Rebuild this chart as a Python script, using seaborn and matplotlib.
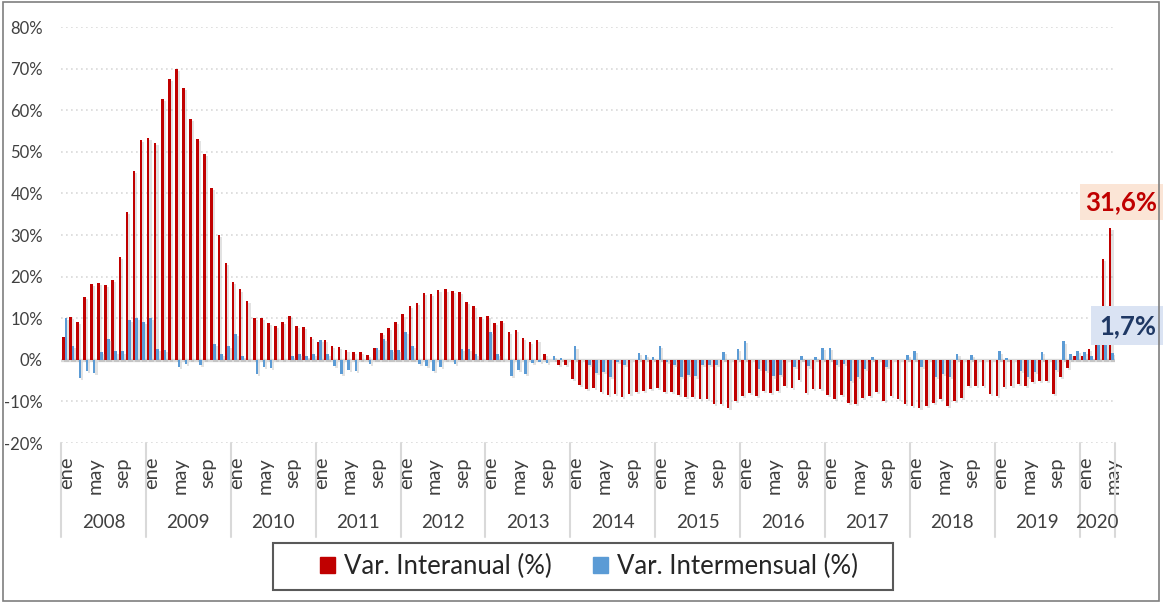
import matplotlib
matplotlib.use("Agg")
import matplotlib.pyplot as plt
import matplotlib.patheffects as pe
from matplotlib.patches import Patch, Rectangle
from matplotlib.transforms import ScaledTranslation
import pandas as pd
import seaborn as sns

# monthly values, ene-2008 .. may-2020
years = [str(y) for y in range(2008, 2021)]
month_ticks = ["ene", "may", "sep"]

interanual = [
    5.6, 10.3, 9.0, 15.0, 18.2, 18.5, 17.9, 19.3, 24.7, 35.5, 45.5, 52.8,
    53.3, 52.2, 62.8, 67.6, 70.0, 65.4, 57.9, 53.0, 49.5, 41.4, 30.0, 23.3,
    18.8, 16.9, 14.2, 10.1, 10.1, 8.8, 8.2, 9.0, 10.6, 8.2, 8.0, 5.6,
    4.2, 4.7, 3.4, 3.1, 2.3, 1.8, 1.8, 1.2, 2.8, 6.4, 7.7, 9.0,
    10.9, 13.0, 13.6, 16.0, 15.8, 16.8, 16.9, 16.6, 16.3, 13.8, 13.0, 10.4,
    10.6, 8.8, 9.3, 6.8, 7.1, 5.3, 4.2, 4.7, 1.3, 0.0, -1.2, -1.2,
    -4.6, -6.0, -7.1, -6.8, -7.8, -8.5, -8.2, -9.0, -8.2, -7.7, -7.4, -7.1,
    -6.8, -7.7, -7.7, -8.5, -9.0, -9.0, -9.5, -9.5, -10.6, -10.6, -11.6, -9.8,
    -8.7, -7.9, -8.7, -7.4, -7.9, -7.6, -6.3, -6.8, -4.8, -7.9, -7.1, -7.1,
    -8.5, -9.5, -8.5, -10.3, -10.6, -9.2, -8.7, -7.7, -10.0, -8.7, -9.5, -10.6,
    -11.2, -11.6, -11.0, -10.3, -9.4, -11.0, -9.9, -9.2, -6.2, -6.2, -6.2, -8.2,
    -8.6, -6.6, -6.2, -5.8, -6.2, -5.4, -5.0, -5.0, -8.2, -4.2, -2.0, 1.0,
    0.8, 2.5, 9.0, 24.2, 31.6,
]

intermensual = [
    10.1, 3.4, -4.4, -2.7, -3.1, 1.8, 5.0, 2.0, 2.0, 9.6, 10.1, 9.0,
    10.1, 2.5, 2.3, 0.0, -1.8, -1.0, 0.0, -1.2, 0.0, 3.7, 1.3, 3.4,
    6.3, 1.0, 0.0, -3.3, -1.7, -1.9, 0.0, 0.0, 1.0, 1.5, 1.0, 1.3,
    4.7, 1.5, -1.4, -3.5, -2.5, -2.7, 0.0, -0.9, 2.8, 5.0, 2.3, 2.3,
    6.6, 3.4, -0.9, -1.4, -2.7, -1.7, 0.0, -1.0, 2.6, 2.6, 1.5, 0.0,
    6.8, 1.5, 0.0, -3.9, -2.5, -3.5, -0.7, -0.5, -0.7, 1.0, 0.4, 0.0,
    3.2, 0.0, -1.2, -3.2, -3.0, -4.2, -0.6, -1.2, 0.0, 1.6, 1.1, 0.6,
    3.4, -0.6, -1.2, -4.2, -3.6, -4.0, -1.2, -1.2, -1.2, 1.9, 0.0, 2.7,
    4.6, 0.0, -2.1, -2.7, -4.0, -3.6, 0.0, -1.7, 0.8, -1.6, 0.6, 2.9,
    2.9, -1.2, -1.0, -5.0, -4.2, -2.2, 0.6, 0.0, -1.7, 0.0, 0.0, 1.2,
    2.2, -1.8, 0.0, -4.2, -3.5, -4.2, 1.4, 0.0, 1.2, 0.0, 0.0, 0.0,
    2.0, 0.5, 0.0, -2.6, -4.2, -3.0, 1.8, 0.0, -2.4, 4.4, 1.4, 2.2,
    1.8, 0.8, 4.5, 6.5, 1.7,
]

RED = "#C00000"
BLUE = "#5B9BD5"
TXT = "#404040"
GRID = "#D9D9D9"

n = len(interanual)
df = pd.DataFrame({
    "mes": list(range(n)) * 2,
    "valor": interanual + intermensual,
    "serie": ["Var. Interanual (%)"] * n + ["Var. Intermensual (%)"] * n,
})

sns.set_style("white")
plt.rcParams["font.family"] = ["Lato", "DejaVu Sans"]

fig = plt.figure(figsize=(11.63, 6.02), dpi=100)
ax = fig.add_axes([61 / 1163, 1 - 443 / 602, 1054 / 1163, 416 / 602])

sns.barplot(data=df, x="mes", y="valor", hue="serie", order=list(range(n)),
            palette=[RED, BLUE], width=0.74, dodge=True, legend=False,
            saturation=1, linewidth=0, ax=ax, zorder=3)
for bar in ax.patches:
    bar.set_path_effects([pe.SimplePatchShadow(offset=(1.5, -1.5), shadow_rgbFace="#8c8c8c", alpha=0.25),
                          pe.Normal()])

ax.set_xlim(-0.5, n - 0.5)
ax.set_ylim(-20, 80)
yt = list(range(-20, 81, 10))
ax.set_yticks(yt)
ax.set_yticklabels([f"{v}%" for v in yt], fontsize=12, color=TXT)
for v in yt:
    if v != 0:
        ax.axhline(v, color=GRID, lw=1.2, ls=(0, (1, 2)), zorder=0)
ax.axhline(0, color=GRID, lw=2.4, zorder=1)
for s in ax.spines.values():
    s.set_visible(False)

# category axis: months + years
pos, labs = [], []
for k in range(len(years)):
    for j, m in zip([0, 4, 8], month_ticks):
        if 12 * k + j < n:
            pos.append(12 * k + j)
            labs.append(m)
ax.set_xticks(pos)
ax.set_xticklabels(labs, rotation=90, fontsize=14.5, color=TXT, va="top", ha="center")
ax.tick_params(axis="x", length=0, pad=10)
ax.tick_params(axis="y", length=0, pad=13)
ax.set_xlabel("")
ax.set_ylabel("")
shift = ScaledTranslation(1.5 / 72, 0, fig.dpi_scale_trans)
for lab in ax.get_xticklabels():
    lab.set_transform(lab.get_transform() + shift)

tr = ax.get_xaxis_transform()
bounds = list(range(0, n, 12)) + [n]
for b in bounds:
    ax.plot([b - 0.5, b - 0.5], [0, -0.226], transform=tr, color=GRID, lw=1.5, clip_on=False)
for k, y in enumerate(years):
    a, b = bounds[k], bounds[k + 1]
    ax.text((a + b - 1) / 2, -0.19, y, transform=tr, ha="center", va="center",
            fontsize=13.5, color=TXT)

def fmt(v):
    return f"{v:.1f}".replace(".", ",") + "%"

ax.annotate(fmt(interanual[-1]), xy=(n - 1, interanual[-1]), xytext=(7, 19),
            textcoords="offset points", ha="center", va="center", fontsize=18.5,
            fontweight="bold", color=RED, annotation_clip=False, zorder=6,
            bbox=dict(boxstyle="square,pad=0.22", fc="#FBE5D6", ec="none"))
ax.annotate(fmt(intermensual[-1]), xy=(n - 1, intermensual[-1]), xytext=(11.5, 19.5),
            textcoords="offset points", ha="center", va="center", fontsize=18.5,
            fontweight="bold", color="#1F3864", annotation_clip=False, zorder=6,
            bbox=dict(boxstyle="square,pad=0.3", fc="#DAE3F3", ec="none"))

handles = [Patch(color=RED, label="Var. Interanual (%)"),
           Patch(color=BLUE, label="Var. Intermensual (%)")]
leg = fig.legend(handles=handles, loc="center", bbox_to_anchor=(589 / 1163, 1 - 566.5 / 602),
                 ncol=2, fontsize=18.5, frameon=False, handlelength=0.6,
                 handleheight=0.6, handletextpad=0.35, columnspacing=1.6)
for t in leg.get_texts():
    t.set_color("#262626")
# legend frame
fig.patches.append(Rectangle((273 / 1163, 1 - 590 / 602), 620 / 1163, 47 / 602, transform=fig.transFigure,
                             fill=False, ec="#595959", lw=1.5))
# chart area border
fig.patches.append(Rectangle((3 / 1163, 1 / 602), 1156 / 1163, 599 / 602, transform=fig.transFigure,
                             fill=False, ec="#7F7F7F", lw=1.2))

fig.savefig("out.png", dpi=100)
